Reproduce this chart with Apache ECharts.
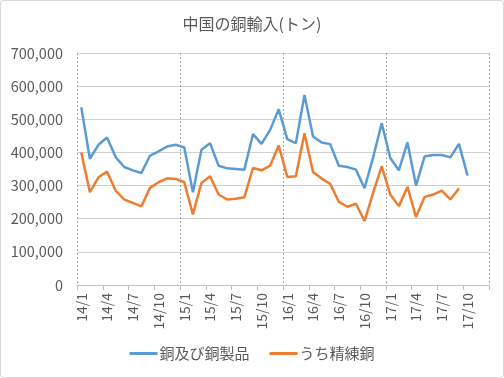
<!DOCTYPE html>
<html><head><meta charset="utf-8">
<script src="https://cdn.jsdelivr.net/npm/echarts@6/dist/echarts.min.js"></script>
<style>html,body{margin:0;padding:0;background:#fff}#c{width:504px;height:378px;box-sizing:border-box;border:1px solid #d9d9d9;border-radius:3px}</style>
</head><body><div id="c"></div>
<script>
const categories = ["14/1","14/2","14/3","14/4","14/5","14/6","14/7","14/8","14/9","14/10","14/11","14/12",
"15/1","15/2","15/3","15/4","15/5","15/6","15/7","15/8","15/9","15/10","15/11","15/12",
"16/1","16/2","16/3","16/4","16/5","16/6","16/7","16/8","16/9","16/10","16/11","16/12",
"17/1","17/2","17/3","17/4","17/5","17/6","17/7","17/8","17/9","17/10","17/11","17/12"];
const copperAll = [536000,381000,423000,445000,386000,356000,346000,338000,390000,403000,418000,423000,
415000,280000,408000,428000,360000,352000,350000,348000,455000,426000,468000,530000,
440000,428000,573000,448000,430000,425000,360000,356000,348000,292000,385000,488000,
383000,346000,430000,300000,388000,392000,392000,385000,426000,330000,null,null];
const refined = [400000,280000,325000,342000,285000,258000,248000,237000,293000,310000,322000,320000,
310000,213000,308000,328000,273000,258000,260000,265000,353000,346000,360000,421000,
326000,328000,458000,341000,321000,305000,251000,236000,245000,193000,278000,358000,
273000,238000,296000,205000,266000,273000,285000,258000,291000,null,null,null];
const seriesNames = ["銅及び銅製品","うち精練銅"];
const yMin = 0, yMax = 700000, yStep = 100000;

const font = '"Noto Sans CJK JP","Noto Sans",sans-serif';
const chart = echarts.init(document.getElementById('c'), null, {renderer:'canvas'});
chart.setOption({
  animation:false,
  textStyle:{fontFamily:font},
  title:{text:'中国の銅輸入(トン)',left:'center',top:10,textStyle:{fontFamily:font,fontSize:16,fontWeight:'normal',color:'#595959'}},
  legend:{bottom:11,left:'center',itemWidth:28,itemHeight:3,itemGap:20,icon:'rect',
    textStyle:{fontFamily:font,fontSize:15,color:'#595959',padding:[0,0,0,-3]},data:seriesNames},
  grid:{left:76,right:14,top:52,bottom:92,containLabel:false},
  xAxis:{type:'category',data:categories,boundaryGap:true,
    axisLine:{lineStyle:{color:'#bfbfbf',width:1}},
    axisTick:{show:true,interval:2,length:5,lineStyle:{color:'#bfbfbf'}},
    axisLabel:{interval:2,rotate:90,fontSize:14,color:'#595959',margin:8,fontFamily:font},
    splitLine:{show:true,interval:11,lineStyle:{color:'#a6a6a6',type:[2,2],width:1}}},
  yAxis:{type:'value',min:yMin,max:yMax,interval:yStep,
    axisLine:{show:false},axisTick:{show:false},
    axisLabel:{fontSize:14.5,color:'#595959',margin:14,fontFamily:font,
      formatter:v=>v.toLocaleString('en-US')},
    splitLine:{lineStyle:{color:'#d0d0d0',width:1}}},
  series:[
    {name:seriesNames[0],type:'line',data:copperAll,symbol:'none',showSymbol:false,
      lineStyle:{color:'#5b9bd5',width:2.5},itemStyle:{color:'#5b9bd5'}},
    {name:seriesNames[1],type:'line',data:refined,symbol:'none',showSymbol:false,
      lineStyle:{color:'#ed7d31',width:2.5},itemStyle:{color:'#ed7d31'}}
  ]
});
</script></body></html>
